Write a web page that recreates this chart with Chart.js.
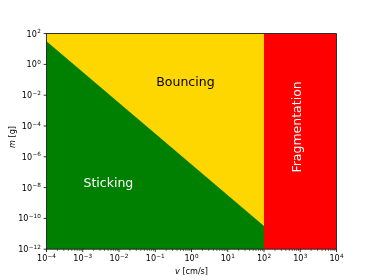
<!DOCTYPE html>
<html>
<head>
<meta charset="utf-8">
<script src="https://cdn.jsdelivr.net/npm/chart.js@4"></script>
<style>
html,body{margin:0;padding:0;background:#fff;}
#c{display:block;}
</style>
</head>
<body>
<canvas id="c" width="374" height="280" style="width:374px;height:280px"></canvas>
<script>
// ---- data ----
const xRange = [1e-4, 1e4];          // v [cm/s]
const yRange = [1e-12, 1e2];         // m [g]
const xTickExps = [-4,-3,-2,-1,0,1,2,3,4];
const yTickExps = [-12,-10,-8,-6,-4,-2,0,2];
// sticking / bouncing boundary (v, m)
const stickV = [1e-4, 1e2];
const stickM = [31.6, 3.16e-11];
// bouncing region (v, top m)
const bounceV = [1e-4, 1e2];
const bounceM = [1e2, 1e2];
// fragmentation region
const fragV = [1e2, 1e4];
const fragM = [1e2, 1e2];
// region labels [text, v, m]
const regionLabels = [
  {text:'Bouncing', v:0.68, m:0.065, color:'#000', rot:0},
  {text:'Sticking', v:0.0051, m:1.9e-8, color:'#fff', rot:0},
  {text:'Fragmentation', v:850, m:8.7e-5, color:'#fff', rot:-Math.PI/2}
];

const FONT = '"DejaVu Sans", sans-serif';
const zip = (a,b)=>a.map((v,i)=>({x:v,y:b[i]}));

function drawPow(ctx, exp, x, y, align){
  const base = '10';
  const sup = exp < 0 ? '\u2212' + Math.abs(exp) : String(exp);
  ctx.font = '8.1px ' + FONT;
  const wb = ctx.measureText(base).width;
  ctx.font = '5.7px ' + FONT;
  const ws = ctx.measureText(sup).width;
  const w = wb + ws + 0.3;
  let x0 = align === 'center' ? x - w/2 : x - w;
  ctx.textAlign = 'left';
  ctx.textBaseline = 'alphabetic';
  ctx.font = '8.1px ' + FONT;
  ctx.fillText(base, x0, y);
  ctx.font = '5.7px ' + FONT;
  ctx.fillText(sup, x0 + wb + 0.3, y - 3.4);
}

const axesPlugin = {
  id: 'axesPlugin',
  afterDatasetsDraw(chart){
    const {ctx, scales:{x, y}} = chart;
    ctx.save();
    for (const r of regionLabels){
      const px = x.getPixelForValue(r.v), py = y.getPixelForValue(r.m);
      ctx.save();
      ctx.translate(px, py);
      ctx.rotate(r.rot);
      ctx.fillStyle = r.color;
      ctx.font = '12.5px ' + FONT;
      ctx.textAlign = 'center';
      ctx.textBaseline = 'middle';
      ctx.fillText(r.text, 0, 0);
      ctx.restore();
    }
    ctx.restore();
  },
  afterDraw(chart){
    const {ctx, chartArea:a, scales:{x, y}} = chart;
    ctx.save();
    ctx.strokeStyle = '#000';
    ctx.fillStyle = '#000';
    ctx.lineWidth = 0.8;
    ctx.strokeRect(a.left, a.top, a.right - a.left, a.bottom - a.top);
    ctx.beginPath();
    for (const e of xTickExps){
      const px = x.getPixelForValue(Math.pow(10, e));
      ctx.moveTo(px, a.bottom); ctx.lineTo(px, a.bottom + 2.9);
    }
    ctx.stroke();
    ctx.lineWidth = 0.6;
    ctx.beginPath();
    for (let e = xTickExps[0]; e < xTickExps[xTickExps.length-1]; e++){
      for (let k = 2; k <= 9; k++){
        const px = x.getPixelForValue(k * Math.pow(10, e));
        ctx.moveTo(px, a.bottom); ctx.lineTo(px, a.bottom + 1.7);
      }
    }
    ctx.stroke();
    ctx.lineWidth = 0.8;
    ctx.beginPath();
    for (const e of yTickExps){
      const py = y.getPixelForValue(Math.pow(10, e));
      ctx.moveTo(a.left, py); ctx.lineTo(a.left - 2.9, py);
    }
    ctx.stroke();
    for (const e of xTickExps){
      const px = x.getPixelForValue(Math.pow(10, e));
      drawPow(ctx, e, px, a.bottom + 12, 'center');
    }
    for (const e of yTickExps){
      const py = y.getPixelForValue(Math.pow(10, e));
      drawPow(ctx, e, a.left - 5.7, py + 3, 'right');
    }
    ctx.textBaseline = 'alphabetic';
    ctx.textAlign = 'left';
    const cx = (a.left + a.right) / 2;
    ctx.font = 'italic 8.1px ' + FONT;
    const wv = ctx.measureText('v').width;
    ctx.font = '8.1px ' + FONT;
    const wr = ctx.measureText(' [cm/s]').width;
    let x0 = cx - (wv + wr) / 2;
    ctx.font = 'italic 8.1px ' + FONT;
    ctx.fillText('v', x0, 273.5);
    ctx.font = '8.1px ' + FONT;
    ctx.fillText(' [cm/s]', x0 + wv, 273.5);
    ctx.save();
    ctx.translate(14.5, 137);
    ctx.rotate(-Math.PI / 2);
    ctx.font = 'italic 8.1px ' + FONT;
    const wm = ctx.measureText('m').width;
    ctx.font = '8.1px ' + FONT;
    const wg = ctx.measureText(' [g]').width;
    x0 = -(wm + wg) / 2;
    ctx.font = 'italic 8.1px ' + FONT;
    ctx.fillText('m', x0, 0);
    ctx.font = '8.1px ' + FONT;
    ctx.fillText(' [g]', x0 + wm, 0);
    ctx.restore();
    ctx.restore();
  }
};

new Chart(document.getElementById('c'), {
  type: 'scatter',
  data: {
    datasets: [
      {label:'Fragmentation', data: zip(fragV, fragM), showLine:true, fill:'start',
       backgroundColor:'#ff0000', borderWidth:0, pointRadius:0, order:0},
      {label:'Sticking', data: zip(stickV, stickM), showLine:true, fill:'start',
       backgroundColor:'#008000', borderWidth:0, pointRadius:0, order:1},
      {label:'Bouncing', data: zip(bounceV, bounceM), showLine:true, fill:'start',
       backgroundColor:'#ffd700', borderWidth:0, pointRadius:0, order:3}
    ]
  },
  options: {
    responsive: false,
    animation: false,
    devicePixelRatio: 1,
    layout: {padding: {left: 46.5, right: 37.5, top: 33.6, bottom: 30.8}},
    plugins: {legend:{display:false}, tooltip:{enabled:false}},
    events: [],
    scales: {
      x: {type:'logarithmic', min:xRange[0], max:xRange[1], display:false},
      y: {type:'logarithmic', min:yRange[0], max:yRange[1], display:false}
    }
  },
  plugins: [axesPlugin]
});
</script>
</body>
</html>
